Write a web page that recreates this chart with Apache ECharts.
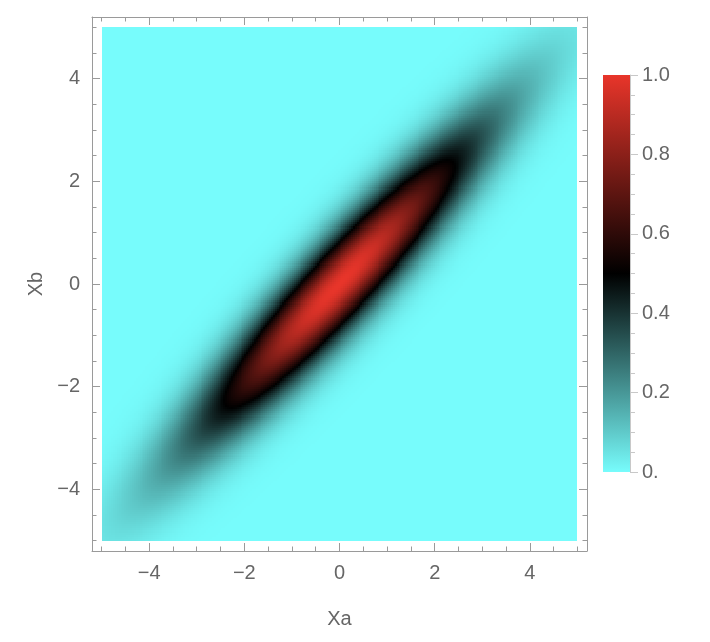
<!DOCTYPE html>
<html>
<head>
<meta charset="utf-8">
<script src="https://cdn.jsdelivr.net/npm/echarts@6/dist/echarts.min.js"></script>
<style>
html, body { margin: 0; padding: 0; background: #ffffff; }
#chart { width: 710px; height: 642px; }
</style>
</head>
<body>
<div id="chart"></div>
<script>
// ---- Data ----
const xaRange = [-5, 5];
const xbRange = [-5, 5];
const xaTicks = [-4, -2, 0, 2, 4];
const xbTicks = [-4, -2, 0, 2, 4];
const xaMinorTicks = [-5, -4.5, -3.5, -3, -2.5, -1.5, -1, -0.5, 0.5, 1, 1.5, 2.5, 3, 3.5, 4.5, 5];
const xbMinorTicks = [-5, -4.5, -3.5, -3, -2.5, -1.5, -1, -0.5, 0.5, 1, 1.5, 2.5, 3, 3.5, 4.5, 5];
const colorTicks = [0, 0.2, 0.4, 0.6, 0.8, 1.0];
const colorTickLabels = ['0.', '0.2', '0.4', '0.6', '0.8', '1.0'];
const colorMinorTicks = [0.05, 0.1, 0.15, 0.25, 0.3, 0.35, 0.45, 0.5, 0.55, 0.65, 0.7, 0.75, 0.85, 0.9, 0.95];
const colorScaleValues = [0, 0.5, 1];
const colorScaleColors = ['#77fcfc', '#000000', '#e8352a'];
// Density is a correlated bivariate Gaussian (scaled 0..1);
// spread and correlation.
const densitySigma = [2.05, 2.05];
const densityRho = [0.94];

// ---- Layout / style ----
const plotRangePadding = 0.2;   // Mathematica frame padding around the data
const cellStep = 0.04;
const frameColor = '#9a9a9a';
const labelColor = '#666666';
const fontFamily = 'Liberation Sans, Arial, sans-serif';
const fontSize = 20;

const frameMin = xaRange[0] - plotRangePadding;
const frameMax = xaRange[1] + plotRangePadding;
const nA = Math.round((xaRange[1] - xaRange[0]) / cellStep);
const nB = Math.round((xbRange[1] - xbRange[0]) / cellStep);
const edgesA = [], edgesB = [];
for (let i = 0; i <= nA; i++) edgesA.push(xaRange[0] + i * cellStep);
for (let j = 0; j <= nB; j++) edgesB.push(xbRange[0] + j * cellStep);

function density(x, y) {
  const s1 = densitySigma[0], s2 = densitySigma[1], r = densityRho[0];
  const q = (x * x) / (s1 * s1) - 2 * r * x * y / (s1 * s2) + (y * y) / (s2 * s2);
  return Math.exp(-q / (2 * (1 - r * r)));
}

// [xa, xb, scaledValue, cellIndexA, cellIndexB]
const raw = [];
let vMin = Infinity, vMax = -Infinity;
for (let i = 0; i < nA; i++) {
  const x = (edgesA[i] + edgesA[i + 1]) / 2;
  for (let j = 0; j < nB; j++) {
    const y = (edgesB[j] + edgesB[j + 1]) / 2;
    const v = density(x, y);
    vMin = Math.min(vMin, v); vMax = Math.max(vMax, v);
    raw.push([x, y, v, i, j]);
  }
}
const heatData = raw.map(d => [d[0], d[1], (d[2] - vMin) / (vMax - vMin), d[3], d[4]]);

function fmt(v) {
  return v < 0 ? '\u2212' + Math.abs(v) : String(v);
}

const textStyle = { color: labelColor, fontFamily: fontFamily, fontSize: fontSize };

function frameAxis(pos, major, minorList, isMajor, withLabels, name, extra) {
  const ax = Object.assign({
    type: 'value',
    gridIndex: 0,
    position: pos,
    min: frameMin,
    max: frameMax,
    splitLine: { show: false },
    axisLine: { show: isMajor, onZero: false, lineStyle: { color: frameColor, width: 1 } },
    axisTick: {
      show: true,
      inside: true,
      length: isMajor ? 8 : 4.5,
      customValues: isMajor ? major : minorList,
      lineStyle: { color: frameColor, width: 1 }
    },
    axisLabel: withLabels ? Object.assign({
      show: true,
      customValues: major,
      formatter: fmt
    }, textStyle, { margin: 12 }) : { show: false },
    axisPointer: { show: false }
  }, extra || {});
  if (name) {
    ax.name = name;
    ax.nameLocation = 'middle';
    ax.nameTextStyle = Object.assign({}, textStyle);
  }
  return ax;
}

function renderCell(params, api) {
  const i = api.value(3), j = api.value(4);
  const p0 = api.coord([edgesA[i], edgesB[j + 1]]);
  const p1 = api.coord([edgesA[i + 1], edgesB[j]]);
  const x0 = Math.round(p0[0]), x1 = Math.round(p1[0]);
  const y0 = Math.round(p0[1]), y1 = Math.round(p1[1]);
  if (x1 <= x0 || y1 <= y0) return null;
  return {
    type: 'rect',
    shape: { x: x0, y: y0, width: x1 - x0, height: y1 - y0 },
    style: { fill: api.visual('color') },
    silent: true
  };
}

const option = {
  animation: false,
  backgroundColor: '#ffffff',
  grid: [
    { left: 92, top: 17, width: 495, height: 534, containLabel: false },
    { left: 603, top: 75, width: 27, height: 397, containLabel: false }
  ],
  visualMap: {
    type: 'continuous',
    show: false,
    seriesIndex: 0,
    dimension: 2,
    min: colorScaleValues[0],
    max: colorScaleValues[colorScaleValues.length - 1],
    inRange: { color: colorScaleColors }
  },
  xAxis: [
    frameAxis('bottom', xaTicks, xaMinorTicks, true, true, 'Xa', { nameGap: 58 }),
    frameAxis('bottom', xaTicks, xaMinorTicks, false, false),
    frameAxis('top', xaTicks, xaMinorTicks, true, false),
    frameAxis('top', xaTicks, xaMinorTicks, false, false),
    { type: 'category', gridIndex: 1, data: ['bar'], show: false }
  ],
  yAxis: [
    frameAxis('left', xbTicks, xbMinorTicks, true, true, 'Xb', { nameGap: 44, nameRotate: 90 }),
    frameAxis('left', xbTicks, xbMinorTicks, false, false),
    frameAxis('right', xbTicks, xbMinorTicks, true, false),
    frameAxis('right', xbTicks, xbMinorTicks, false, false),
    {
      type: 'value', gridIndex: 1, position: 'right', min: 0, max: 1,
      splitLine: { show: false },
      axisLine: { show: true, onZero: false, lineStyle: { color: '#c8c8c8', width: 1 } },
      axisTick: { show: true, inside: false, length: 8, customValues: colorTicks, lineStyle: { color: '#c8c8c8' } },
      axisLabel: Object.assign({
        show: true,
        customValues: colorTicks,
        formatter: v => colorTickLabels[colorTicks.findIndex(t => Math.abs(t - v) < 1e-9)] || ''
      }, textStyle, { margin: 12 })
    },
    {
      type: 'value', gridIndex: 1, position: 'right', min: 0, max: 1,
      splitLine: { show: false },
      axisLine: { show: false, onZero: false },
      axisTick: { show: true, inside: false, length: 5, customValues: colorMinorTicks, lineStyle: { color: '#c8c8c8' } },
      axisLabel: { show: false }
    }
  ],
  series: [
    {
      type: 'custom',
      xAxisIndex: 0,
      yAxisIndex: 0,
      data: heatData,
      encode: { x: 0, y: 1 },
      renderItem: renderCell,
      progressive: 0,
      progressiveThreshold: 10000000,
      clip: true,
      silent: true
    },
    {
      type: 'bar',
      xAxisIndex: 4,
      yAxisIndex: 4,
      data: [colorScaleValues[colorScaleValues.length - 1]],
      barWidth: '100%',
      silent: true,
      itemStyle: {
        color: new echarts.graphic.LinearGradient(0, 1, 0, 0,
          colorScaleValues.map((v, k) => ({ offset: v, color: colorScaleColors[k] })))
      }
    }
  ]
};

const chart = echarts.init(document.getElementById('chart'), null, { renderer: 'canvas' });
chart.setOption(option);
</script>
</body>
</html>
